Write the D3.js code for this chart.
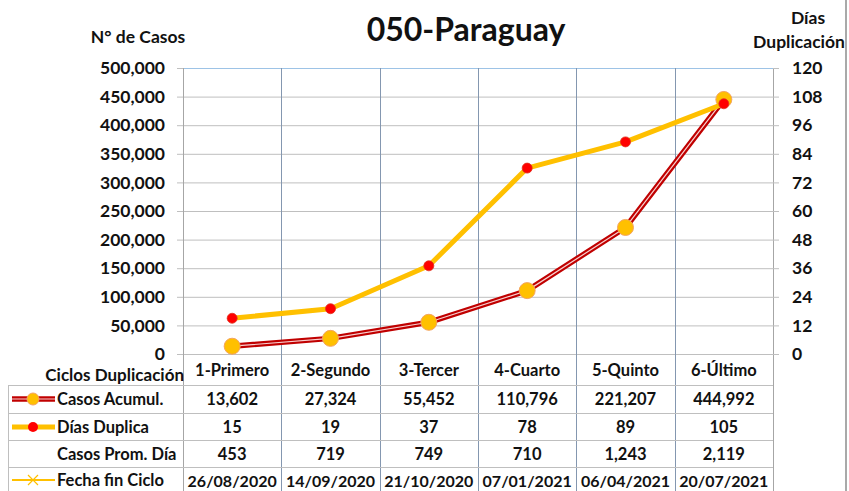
<!DOCTYPE html>
<html>
<head>
<meta charset="utf-8">
<script src="https://cdn.jsdelivr.net/npm/d3@7"></script>
<style>
  body { margin: 0; background: #fff; }
  svg { display: block; font-family: Lato, "Open Sans", sans-serif; font-weight: bold; }
</style>
</head>
<body>
<svg id="chart" width="849" height="491"></svg>
<script>
// chart values
const categories = ['1-Primero', '2-Segundo', '3-Tercer', '4-Cuarto', '5-Quinto', '6-Último'];
const casos = [13602, 27324, 55452, 110796, 221207, 444992];
const dias = [15, 19, 37, 78, 89, 105];
const promDia = [453, 719, 749, 710, 1243, 2119];
const fechas = ['26/08/2020', '14/09/2020', '21/10/2020', '07/01/2021', '06/04/2021', '20/07/2021'];
const leftTicks = [0, 50000, 100000, 150000, 200000, 250000, 300000, 350000, 400000, 450000, 500000];
const rightTicks = [0, 12, 24, 36, 48, 60, 72, 84, 96, 108, 120];
const rowLabels = ['Casos Acumul.', 'Días Duplica', 'Casos Prom. Día', 'Fecha fin Ciclo'];

const svg = d3.select('#chart');
const fmt = d3.format(',');

const L = 183, R = 773, T = 68, B = 354;
const x = d3.scaleBand().domain(categories).range([L, R]);
const yL = d3.scaleLinear().domain([0, 500000]).range([B, T]);
const yR = d3.scaleLinear().domain([0, 120]).range([B, T]);

// outer right border
svg.append('line').attr('x1', 846).attr('x2', 846).attr('y1', 0).attr('y2', 491)
  .attr('stroke', '#8c8c8c').attr('stroke-width', 1.5);

// horizontal gridlines
svg.append('g').selectAll('line').data(leftTicks).join('line')
  .attr('x1', L).attr('x2', R)
  .attr('y1', d => yL(d) + .5).attr('y2', d => yL(d) + .5)
  .attr('stroke', d => d === 500000 ? '#9dc3e6' : '#bfbfbf').attr('stroke-width', 1);

// category separators (plot + table)
const bounds = categories.map(c => x(c)).concat([R]);
svg.append('g').selectAll('line').data(bounds).join('line')
  .attr('x1', d => Math.round(d) + .5).attr('x2', d => Math.round(d) + .5)
  .attr('y1', T).attr('y2', 491)
  .attr('stroke', (d, i) => (i === 0 || i === bounds.length - 1) ? '#a6a6a6' : '#8497b0')
  .attr('stroke-width', 1);

// table rows
const rowY = [385, 413, 440, 467, 495];
svg.append('g').selectAll('line').data(rowY).join('line')
  .attr('x1', 8).attr('x2', R)
  .attr('y1', d => d + .5).attr('y2', d => d + .5)
  .attr('stroke', '#bfbfbf');
svg.append('line').attr('x1', 8.5).attr('x2', 8.5).attr('y1', 385).attr('y2', 491).attr('stroke', '#bfbfbf');

// axes
const axL = svg.append('g').attr('transform', `translate(${L},0)`)
  .call(d3.axisLeft(yL).tickValues(leftTicks).tickFormat(fmt).tickSize(6).tickPadding(12));
const axR = svg.append('g').attr('transform', `translate(${R},0)`)
  .call(d3.axisRight(yR).tickValues(rightTicks).tickSize(6).tickPadding(13));
[axL, axR].forEach(g => {
  g.select('.domain').remove();
  g.selectAll('.tick line').attr('stroke', '#bfbfbf');
  g.selectAll('text').attr('font-size', 17.5).attr('font-family', 'Lato, sans-serif')
    .attr('font-weight', 'bold').attr('fill', '#111');
});

// titles
svg.append('text').attr('x', 466).attr('y', 41).attr('text-anchor', 'middle')
  .attr('font-size', 32).attr('fill', '#111').text('050-Paraguay');
svg.append('text').attr('x', 138).attr('y', 43).attr('text-anchor', 'middle')
  .attr('font-size', 17.5).attr('fill', '#111').text('N° de Casos');
svg.append('text').attr('x', 808).attr('y', 24).attr('text-anchor', 'middle')
  .attr('font-size', 17.5).attr('fill', '#111').text('Días');
svg.append('text').attr('x', 845).attr('y', 48).attr('text-anchor', 'end')
  .attr('font-size', 17.5).attr('fill', '#111').text('Duplicación');

// Casos Acumul. line (double stroke)
const cx = d => x(d) + x.bandwidth() / 2;
const lineC = d3.line().x((d, i) => cx(categories[i])).y(d => yL(d));
svg.append('path').attr('d', lineC(casos)).attr('fill', 'none')
  .attr('stroke', '#c00000').attr('stroke-width', 5.5).attr('stroke-linejoin', 'round');
svg.append('path').attr('d', lineC(casos)).attr('fill', 'none')
  .attr('stroke', '#f8d0d0').attr('stroke-width', 1.2).attr('stroke-linejoin', 'round');
svg.append('g').selectAll('circle').data(casos).join('circle')
  .attr('cx', (d, i) => cx(categories[i])).attr('cy', d => yL(d)).attr('r', 8)
  .attr('fill', '#ffc000').attr('stroke', '#f4a460').attr('stroke-width', 1);

// Días Duplica line
const lineD = d3.line().x((d, i) => cx(categories[i])).y(d => yR(d));
svg.append('path').attr('d', lineD(dias)).attr('fill', 'none')
  .attr('stroke', '#ffc000').attr('stroke-width', 5).attr('stroke-linejoin', 'round');
svg.append('g').selectAll('circle').data(dias).join('circle')
  .attr('cx', (d, i) => cx(categories[i])).attr('cy', d => yR(d)).attr('r', 5)
  .attr('fill', '#ff0000').attr('stroke', '#e0301e').attr('stroke-width', .8);

// table text
const cell = (txt, xx, yy, anchor, size) => svg.append('text').attr('x', xx).attr('y', yy)
  .attr('text-anchor', anchor || 'middle').attr('dominant-baseline', 'central')
  .attr('font-size', size || 16.5).attr('fill', '#111').text(txt);

cell('Ciclos Duplicación', 184, 374, 'end', 17);
categories.forEach((c, i) => {
  const xc = cx(c);
  cell(c, xc, 370);
  cell(fmt(casos[i]), xc, 399);
  cell(dias[i], xc, 427);
  cell(fmt(promDia[i]), xc, 454);
  cell(fechas[i], xc, 480, 'middle', 16);
});
const rowMid = [399, 427, 454, 480];
rowLabels.forEach((t, i) => cell(t, 57, rowMid[i], 'start'));

// legend keys
const kg = svg.append('g');
kg.append('line').attr('x1', 12).attr('x2', 55).attr('y1', 399).attr('y2', 399)
  .attr('stroke', '#c00000').attr('stroke-width', 5.5);
kg.append('line').attr('x1', 12).attr('x2', 55).attr('y1', 399).attr('y2', 399)
  .attr('stroke', '#f8d0d0').attr('stroke-width', 1.2);
kg.append('circle').attr('cx', 33).attr('cy', 399).attr('r', 6)
  .attr('fill', '#ffc000').attr('stroke', '#f4a460');
kg.append('line').attr('x1', 12).attr('x2', 55).attr('y1', 427).attr('y2', 427)
  .attr('stroke', '#ffc000').attr('stroke-width', 5);
kg.append('circle').attr('cx', 33).attr('cy', 427).attr('r', 5).attr('fill', '#ff0000');
kg.append('line').attr('x1', 12).attr('x2', 55).attr('y1', 480).attr('y2', 480)
  .attr('stroke', '#ffc000').attr('stroke-width', 2);
kg.append('path').attr('d', 'M28,475L38,485M28,485L38,475')
  .attr('stroke', '#ffc000').attr('stroke-width', 1.2);
</script>
</body>
</html>
